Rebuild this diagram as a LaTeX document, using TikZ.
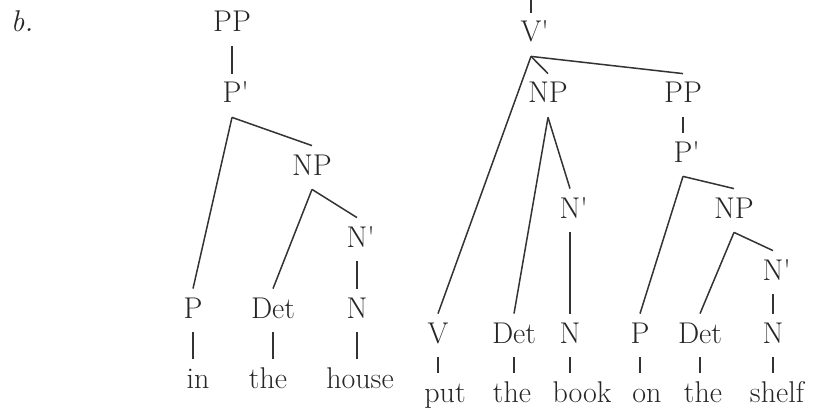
\documentclass[tikz,border=0pt]{standalone}
\usepackage{fontspec}
\usepackage{tikz}

\newcommand{\primed}[1]{#1\rlap{\textquotesingle}}

\begin{document}
\begin{tikzpicture}[
    x=0.5pt,
    y=-0.5pt,
    cat/.style={
        inner xsep=2pt,
        inner ysep=4pt,
        text height=10.5pt,
        text depth=3pt,
        font=\fontsize{15}{18}\selectfont,
        text=black!85
    },
    word/.style={cat},
    branch/.style={line width=0.75pt, black!80}
]

\useasboundingbox (0,0) rectangle (817,417);

% ============================================================
% Example label
% ============================================================

\node[cat, font=\fontsize{15}{18}\selectfont\itshape] (lbl) at (22,24.5) {b.};

% ============================================================
% Left tree: in the house
% ============================================================

\node[cat] (ppL) at (232,24.5) {PP};
\node[cat] (pbL) at (232,95.5) {\primed{P}};
\node[cat] (npL) at (312,167.5) {NP};
\node[cat] (nbL) at (357,239.5) {\primed{N}};

\node[cat] (pL) at (193,310.5) {P};
\node[cat] (detL) at (273,310.5) {Det};
\node[cat] (nL) at (357,310.5) {N};

\node[word] (inW) at (198,380.5) {in};
\node[word] (theW1) at (268,380.5) {the};
\node[word] (houseW) at (360,380.5) {house};

\draw[branch] (ppL.south) -- (pbL.north);
\draw[branch] (pbL.south) -- (npL.north);
\draw[branch] (pbL.south) -- (pL.north);
\draw[branch] (npL.south) -- (detL.north);
\draw[branch] (npL.south) -- (nbL.north);
\draw[branch] (nbL.south) -- (nL.north);

% Lexical items
\draw[branch] (pL.south) -- (pL.south |- inW.north);
\draw[branch] (detL.south) -- (detL.south |- theW1.north);
\draw[branch] (nL.south) -- (nL.south |- houseW.north);

% ============================================================
% Right tree: put the book on the shelf
% ============================================================

\coordinate (vtop) at (531,-2);

\node[cat] (vbR) at (531,34.5) {\primed{V}};
\node[cat] (npR) at (548,95.5) {NP};
\node[cat] (ppR) at (683,95.5) {PP};
\node[cat] (pbR) at (683,154.5) {\primed{P}};
\node[cat] (nbR) at (570,210.5) {\primed{N}};
\node[cat] (npR2) at (734,210.5) {NP};
\node[cat] (nbR2) at (773,272.5) {\primed{N}};

\node[cat] (vR) at (438,335.5) {V};
\node[cat] (detR) at (514,335.5) {Det};
\node[cat] (nR) at (570,335.5) {N};
\node[cat] (pR) at (640,335.5) {P};
\node[cat] (detR2) at (700,335.5) {Det};
\node[cat] (nR2) at (773,335.5) {N};

\node[word] (putW) at (445,394.5) {put};
\node[word] (theW2) at (512,394.5) {the};
\node[word] (bookW) at (582,394.5) {book};
\node[word] (onW) at (647,394.5) {on};
\node[word] (theW3) at (703,394.5) {the};
\node[word] (shelfW) at (777,394.5) {shelf};

\draw[branch] (vtop) -- (vbR.north);
\draw[branch] (vbR.south) -- (vR.north);
\draw[branch] (vbR.south) -- (npR.north);
\draw[branch] (vbR.south) -- (ppR.north);

\draw[branch] (npR.south) -- (detR.north);
\draw[branch] (npR.south) -- (nbR.north);
\draw[branch] (nbR.south) -- (nR.north);

\draw[branch] (ppR.south) -- (pbR.north);
\draw[branch] (pbR.south) -- (pR.north);
\draw[branch] (pbR.south) -- (npR2.north);
\draw[branch] (npR2.south) -- (detR2.north);
\draw[branch] (npR2.south) -- (nbR2.north);
\draw[branch] (nbR2.south) -- (nR2.north);

% Lexical items
\draw[branch] (vR.south) -- (vR.south |- putW.north);
\draw[branch] (detR.south) -- (detR.south |- theW2.north);
\draw[branch] (nR.south) -- (nR.south |- bookW.north);
\draw[branch] (pR.south) -- (pR.south |- onW.north);
\draw[branch] (detR2.south) -- (detR2.south |- theW3.north);
\draw[branch] (nR2.south) -- (nR2.south |- shelfW.north);

\end{tikzpicture}
\end{document}
